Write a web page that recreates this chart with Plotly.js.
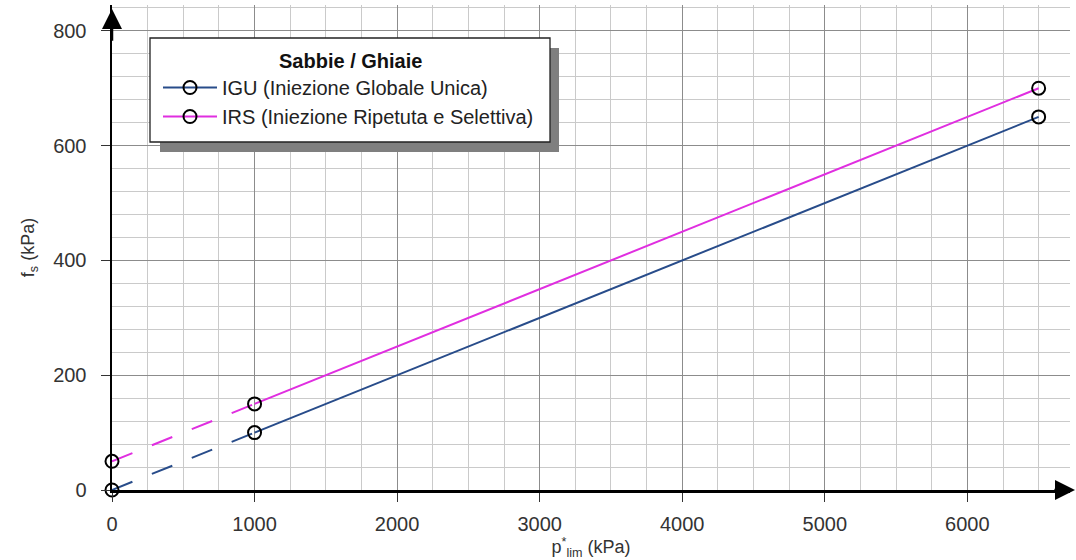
<!DOCTYPE html>
<html>
<head>
<meta charset="utf-8">
<script src="https://cdn.plot.ly/plotly-3.0.1.min.js"></script>
<style>
  html, body { margin: 0; padding: 0; background: #fff; }
  #chart { width: 1076px; height: 560px; }
</style>
</head>
<body>
<div id="chart"></div>
<script>
// Limit pressure p*lim (kPa) and unit shaft friction fs (kPa) – sands / gravels
const pLim = [0, 1000, 6500];
const fsIGU = [0, 100, 650];
const fsIRS = [50, 150, 700];
const seriesNames = ['IGU (Iniezione Globale Unica)', 'IRS (Iniezione Ripetuta e Selettiva)'];
const legendTitle = 'Sabbie / Ghiaie';
const xTicks = [0, 1000, 2000, 3000, 4000, 5000, 6000];
const yTicks = [0, 200, 400, 600, 800];

const colIGU = '#284c8a';
const colIRS = '#e02ee0';
const font = 'Liberation Sans, Arial, sans-serif';

const marker = { symbol: 'circle-open', size: 13, color: '#000', line: { width: 2, color: '#000' } };

// solid part of each line (from 1000 kPa on), shown in the legend
function solid(y, name, color, group) {
  return {
    x: pLim.slice(1), y: y.slice(1), name: name, legendgroup: group, mode: 'lines+markers',
    line: { color: color, width: 2 }, marker: marker, cliponaxis: false
  };
}
// dashed extension back to the origin
function dashed(y, color, group) {
  return {
    x: pLim.slice(0, 2), y: y.slice(0, 2), legendgroup: group, mode: 'lines', showlegend: false,
    line: { color: color, width: 2, dash: '22px,21px' }, cliponaxis: false, hoverinfo: 'skip'
  };
}
// starting point marker at p*lim = 0
function start(y, group) {
  return {
    x: pLim.slice(0, 1), y: y.slice(0, 1), legendgroup: group, mode: 'markers', showlegend: false,
    marker: marker, cliponaxis: false, hoverinfo: 'skip'
  };
}

const data = [
  dashed(fsIGU, colIGU, 'igu'),
  dashed(fsIRS, colIRS, 'irs'),
  solid(fsIGU, seriesNames[0], colIGU, 'igu'),
  solid(fsIRS, seriesNames[1], colIRS, 'irs'),
  start(fsIGU, 'igu'),
  start(fsIRS, 'irs')
];

const L = 112, R = 6, T = 5, B = 70, W = 1076, H = 560;
const pw = W - L - R, ph = H - T - B;
const px = v => (v - L) / pw;
const py = v => (H - B - v) / ph;

const layout = {
  width: W, height: H,
  margin: { l: L, r: R, t: T, b: B },
  paper_bgcolor: '#fff', plot_bgcolor: '#fff',
  font: { family: font, color: '#333', size: 20 },
  showlegend: true,
  xaxis: {
    range: [0, 6720], tickvals: xTicks, ticktext: xTicks.map(String),
    showgrid: true, gridcolor: '#8c8c8c', gridwidth: 1,
    minor: { dtick: 250, tick0: 0, showgrid: true, gridcolor: '#cacaca', gridwidth: 1 },
    showline: true, linecolor: '#000', linewidth: 2.5, zeroline: false,
    ticks: 'outside', ticklen: 9, tickcolor: '#333', tickwidth: 1,
    ticklabelstandoff: 5,
    tickfont: { family: font, size: 20, color: '#333' },
    title: { text: 'p<sup>*</sup><sub>lim</sub> (kPa)', font: { family: font, size: 18, color: '#333' }, standoff: 8 },
    automargin: false, fixedrange: true
  },
  yaxis: {
    range: [0, 845], tickvals: yTicks, ticktext: yTicks.map(String),
    showgrid: true, gridcolor: '#8c8c8c', gridwidth: 1,
    minor: { dtick: 40, tick0: 0, showgrid: true, gridcolor: '#cacaca', gridwidth: 1 },
    showline: true, linecolor: '#000', linewidth: 2.5, zeroline: false,
    ticks: 'outside', ticklen: 9, tickcolor: '#333', tickwidth: 1,
    ticklabelstandoff: 10,
    tickfont: { family: font, size: 20, color: '#333' },
    title: { text: 'f<sub>s</sub> (kPa)', font: { family: font, size: 18, color: '#333' }, standoff: 14 },
    automargin: false, fixedrange: true
  },
  legend: {
    x: px(158), y: py(68), xanchor: 'left', yanchor: 'top',
    bgcolor: 'rgba(0,0,0,0)', borderwidth: 0,
    font: { family: font, size: 20, color: '#222' },
    itemwidth: 54, tracegroupgap: 0, traceorder: 'grouped'
  },
  shapes: [
    // legend frame with drop shadow
    { type: 'rect', xref: 'paper', yref: 'paper', layer: 'above',
      x0: px(160), x1: px(559), y0: py(152), y1: py(48),
      fillcolor: '#7f7f7f', line: { width: 0 } },
    { type: 'rect', xref: 'paper', yref: 'paper', layer: 'above',
      x0: px(150), x1: px(550), y0: py(142), y1: py(38),
      fillcolor: '#fff', line: { width: 1.3, color: '#222' } }
  ],
  annotations: [
    { text: '<b>' + legendTitle + '</b>', xref: 'paper', yref: 'paper',
      x: px(350), y: py(61), xanchor: 'center', yanchor: 'middle', showarrow: false,
      font: { family: font, size: 20, color: '#111' } },
    // arrow heads closing the axes
    { x: 6755, y: 0, ax: 6600, ay: 0, xref: 'x', yref: 'y', axref: 'x', ayref: 'y',
      showarrow: true, arrowhead: 2, arrowsize: 1.6, arrowwidth: 2.5, arrowcolor: '#000', text: '' },
    { x: 0, y: 838, ax: 0, ay: 780, xref: 'x', yref: 'y', axref: 'x', ayref: 'y',
      showarrow: true, arrowhead: 2, arrowsize: 1.6, arrowwidth: 2.5, arrowcolor: '#000', text: '' }
  ]
};

Plotly.newPlot('chart', data, layout, { displayModeBar: false, staticPlot: true });
</script>
</body>
</html>
